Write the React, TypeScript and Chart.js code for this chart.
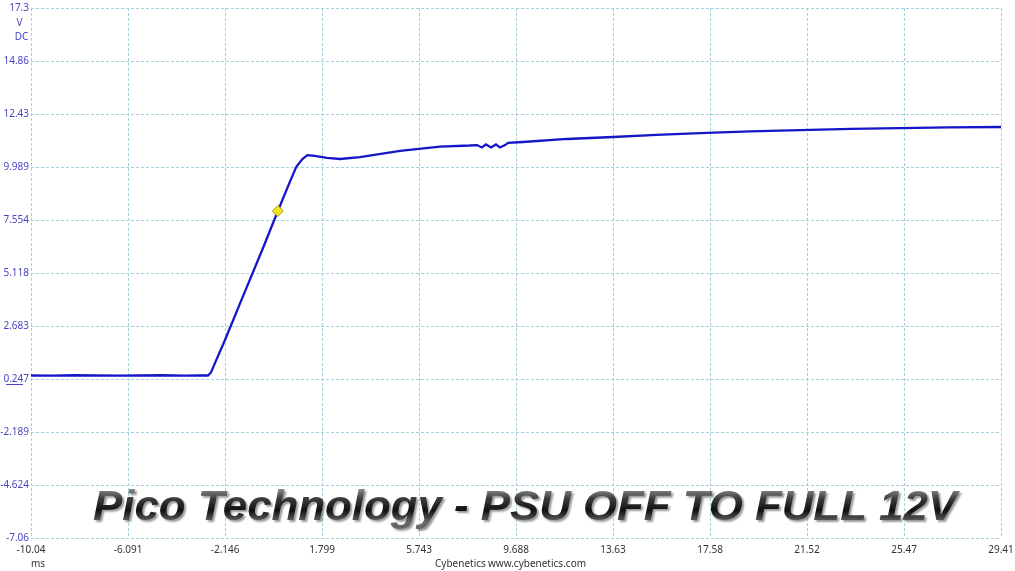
import React, { useEffect, useRef } from "react";
import { Chart, registerables } from "chart.js";

Chart.register(...registerables);

const timeMs = [
  -10.04, -9.2, -8.3, -7.4, -6.5, -5.6, -4.7, -3.8, -3.2, -2.84, -2.72, -2.55, -2.15, -1.5,
  -0.604, 0, 0.5, 0.75, 1.0, 1.2, 1.5, 2.0, 2.53, 3.34, 4.97, 6.59, 7.81, 8.1, 8.3, 8.46, 8.67,
  8.87, 9.03, 9.24, 9.36, 9.97, 11.76, 13.63, 15.4, 17.17, 19.2, 21.24, 23.3, 25.3, 27.3, 29.41,
];
const voltsDC = [
  0.41, 0.4, 0.42, 0.41, 0.4, 0.41, 0.42, 0.4, 0.41, 0.41, 0.55, 1.0, 2.04, 3.83,
  6.27, 7.97, 9.34, 10.0, 10.36, 10.54, 10.5, 10.41, 10.36, 10.45, 10.73, 10.93, 10.98, 11.0, 10.89, 11.03, 10.89,
  11.03, 10.89, 11.0, 11.1, 11.14, 11.28, 11.37, 11.47, 11.55, 11.63, 11.69, 11.74, 11.78, 11.81, 11.83,
];
const markerTime = [0];
const markerVolts = [7.97];

const xTickValues = [-10.04, -6.091, -2.146, 1.799, 5.743, 9.688, 13.63, 17.58, 21.52, 25.47, 29.41];
const xTickLabels = ["-10.04", "-6.091", "-2.146", "1.799", "5.743", "9.688", "13.63", "17.58", "21.52", "25.47", "29.41"];
const yTickValues = [17.3, 14.86, 12.43, 9.989, 7.554, 5.118, 2.683, 0.247, -2.189, -4.624, -7.06];
const yTickLabels = ["17.3", "14.86", "12.43", "9.989", "7.554", "5.118", "2.683", "0.247", "-2.189", "-4.624", "-7.06"];

const titleText = "Pico Technology - PSU OFF TO FULL 12V";
const yUnitLines = ["V", "DC"];
const xUnit = "ms";
const footerName = "Cybenetics";
const footerUrl = "www.cybenetics.com";

const LINE_COLOR = "#1616c8";
const YLABEL_COLOR = "#4646c4";
const XLABEL_COLOR = "#333333";
const GRID_COLOR = "#a4d0dc";
const FONT = "'Noto Sans', 'DejaVu Sans', sans-serif";

const gridPlugin = {
  id: "dashedGrid",
  beforeDatasetsDraw(chart: any) {
    const ctx = chart.ctx as CanvasRenderingContext2D;
    const a = chart.chartArea;
    const xs = chart.scales.x;
    const ys = chart.scales.y;
    ctx.save();
    ctx.strokeStyle = GRID_COLOR;
    ctx.lineWidth = 1;
    ctx.setLineDash([3, 2]);
    for (const v of xTickValues) {
      const px = Math.round(xs.getPixelForValue(v)) + 0.5;
      ctx.beginPath();
      ctx.moveTo(px, a.top);
      ctx.lineTo(px, a.bottom);
      ctx.stroke();
    }
    for (const v of yTickValues) {
      const py = Math.round(ys.getPixelForValue(v)) + 0.5;
      ctx.beginPath();
      ctx.moveTo(a.left, py);
      ctx.lineTo(a.right, py);
      ctx.stroke();
    }
    ctx.restore();
  },
};

const extrasPlugin = {
  id: "extras",
  afterDatasetsDraw(chart: any) {
    const ctx = chart.ctx as CanvasRenderingContext2D;
    ctx.save();
    ctx.font = `bold italic 42px 'Liberation Sans', Arial, sans-serif`;
    const w = ctx.measureText(titleText).width;
    const left = 93;
    const right = 957;
    const sx = (right - left) / w;
    ctx.translate(left, 520);
    ctx.scale(sx, 1);
    const grad = ctx.createLinearGradient(0, -31, 0, 2);
    grad.addColorStop(0, "#8a8a8a");
    grad.addColorStop(0.3, "#3a3a3a");
    grad.addColorStop(0.65, "#111111");
    grad.addColorStop(1, "#666666");
    ctx.shadowColor = "rgba(0,0,0,0.4)";
    ctx.shadowOffsetX = 2;
    ctx.shadowOffsetY = 2;
    ctx.shadowBlur = 2;
    ctx.textAlign = "left";
    ctx.textBaseline = "alphabetic";
    ctx.fillStyle = grad;
    ctx.fillText(titleText, 0, 0);
    ctx.restore();

    ctx.save();
    ctx.font = `10px ${FONT}`;
    ctx.textBaseline = "middle";
    ctx.textAlign = "center";
    ctx.fillStyle = YLABEL_COLOR;
    ctx.fillText(yUnitLines[0], 19.5, 23);
    ctx.fillText(yUnitLines[1], 21.5, 37);
    const yRef = chart.scales.y.getPixelForValue(0.247);
    ctx.strokeStyle = YLABEL_COLOR;
    ctx.lineWidth = 1;
    ctx.beginPath();
    ctx.moveTo(6, Math.round(yRef) + 5.5);
    ctx.lineTo(23, Math.round(yRef) + 5.5);
    ctx.stroke();
    ctx.fillStyle = XLABEL_COLOR;
    ctx.fillText(xUnit, 38, 564);
    ctx.textAlign = "left";
    ctx.fillText(footerName, 435, 564);
    ctx.fillText(footerUrl, 488, 564);
    ctx.restore();
  },
};

export default function App() {
  const ref = useRef<HTMLCanvasElement | null>(null);
  useEffect(() => {
    document.body.style.margin = "0";
    const canvas = ref.current!;
    const chart = new Chart(canvas, {
      type: "line",
      data: {
        datasets: [
          {
            data: timeMs.map((t, i) => ({ x: t, y: voltsDC[i] })),
            borderColor: LINE_COLOR,
            borderWidth: 2.3,
            pointRadius: 0,
            tension: 0,
            fill: false,
            order: 2,
          },
          {
            data: markerTime.map((t, i) => ({ x: t, y: markerVolts[i] })),
            showLine: false,
            pointStyle: "rectRot",
            pointRadius: 5.5,
            pointBackgroundColor: "#f6e41c",
            pointBorderColor: "#a89a10",
            pointBorderWidth: 1,
            order: 1,
          },
        ],
      },
      options: {
        responsive: false,
        animation: false,
        layout: { padding: { top: 8, right: 14, left: 0, bottom: 0 } },
        plugins: { legend: { display: false }, tooltip: { enabled: false }, title: { display: false } },
        scales: {
          x: {
            type: "linear",
            min: xTickValues[0],
            max: xTickValues[xTickValues.length - 1],
            afterBuildTicks: (s: any) => {
              s.ticks = xTickValues.map((v) => ({ value: v }));
            },
            afterFit: (s: any) => {
              s.height = 33;
              s.paddingLeft = 0;
              s.paddingRight = 0;
            },
            ticks: {
              autoSkip: false,
              maxRotation: 0,
              padding: 6,
              color: XLABEL_COLOR,
              font: { size: 10, family: FONT },
              callback: (_v: any, i: number) => xTickLabels[i],
            },
            grid: { display: false, drawTicks: false },
            border: { display: false },
          },
          y: {
            type: "linear",
            min: yTickValues[yTickValues.length - 1],
            max: yTickValues[0],
            afterBuildTicks: (s: any) => {
              s.ticks = yTickValues.map((v) => ({ value: v }));
            },
            afterFit: (s: any) => {
              s.width = 31;
              s.paddingTop = 0;
              s.paddingBottom = 0;
            },
            ticks: {
              autoSkip: false,
              padding: 2,
              color: YLABEL_COLOR,
              font: { size: 10, family: FONT },
              callback: (_v: any, i: number) => yTickLabels[i],
            },
            grid: { display: false, drawTicks: false },
            border: { display: false },
          },
        },
      },
      plugins: [gridPlugin, extrasPlugin],
    } as any);
    return () => chart.destroy();
  }, []);
  return (
    <div style={{ position: "fixed", left: 0, top: 0, width: 1015, height: 571, background: "#fff" }}>
      <canvas ref={ref} width={1015} height={571} />
    </div>
  );
}
